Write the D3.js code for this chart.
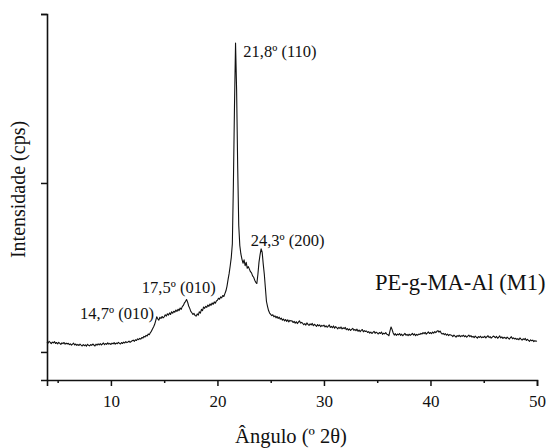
<!DOCTYPE html>
<html>
<head>
<meta charset="utf-8">
<script src="https://cdn.jsdelivr.net/npm/d3@7"></script>
<style>
  html, body { margin: 0; padding: 0; background: #fff; }
  svg { display: block; }
  text { font-family: "Liberation Serif", "Times New Roman", serif; fill: #111; }
</style>
</head>
<body>
<svg id="chart" width="549" height="448"></svg>
<script>
// ---- data ----
// XRD scan sampled every 0.1° 2θ from 4.0° to 50.0°
const angleStart = 4.0;
const angleStep = 0.1;
const intensity = [
  560,552,563,557,549,558,554,561,550,556,   // 4
  548,557,551,545,554,549,556,546,552,547,   // 5
  551,543,548,540,546,552,541,547,539,545,   // 6
  538,546,540,535,544,537,542,534,545,539,   // 7
  536,544,539,547,541,535,546,540,548,542,   // 8
  549,541,547,553,543,550,545,554,546,551,   // 9
  544,552,548,555,546,553,549,557,551,547,   // 10
  556,550,558,553,561,555,559,564,557,562,   // 11
  566,570,563,572,568,577,573,580,576,585,   // 12
  582,592,588,598,594,606,602,614,622,636,   // 13
  648,662,684,708,696,688,705,698,710,702,   // 14
  708,720,712,726,718,731,722,738,729,741,   // 15
  735,748,740,753,745,760,752,768,775,790,   // 16
  798,810,795,772,758,740,732,722,728,716,   // 17
  712,725,718,738,730,752,745,766,758,770,   // 18
  764,778,770,784,776,790,782,796,788,802,   // 19
  806,818,812,826,820,834,828,845,862,890,   // 20
  930,965,1010,1060,1140,1500,1950,2328,2050,1600, // 21
  1250,1130,1080,1050,1025,1045,1010,1030,995,1005, // 22
  990,975,968,950,942,925,912,905,960,1030,  // 23
  1075,1110,1090,1020,960,880,800,770,745,730, // 24
  722,715,720,708,714,702,710,698,706,694,   // 25
  700,688,695,684,692,681,690,678,687,683,   // 26
  685,674,681,670,679,668,676,684,671,675,   // 27
  670,661,668,659,672,663,657,666,660,669,   // 28
  655,664,658,651,662,654,660,649,657,653,   // 29
  659,648,655,646,652,660,645,651,643,654,   // 30
  640,650,644,637,646,639,648,636,643,638,   // 31
  645,632,638,629,636,627,634,640,628,633,   // 32
  626,635,622,630,620,628,633,619,626,621,   // 33
  624,615,620,611,618,609,616,622,610,617,   // 34
  613,606,615,609,618,604,611,607,614,605,   // 35
  602,596,625,648,632,612,600,608,598,606,   // 36
  601,609,598,605,596,603,610,599,604,597,   // 37
  605,598,603,610,600,607,596,604,599,606,   // 38
  603,610,606,614,608,616,605,612,619,609,   // 39
  615,608,618,611,620,614,622,626,617,624,   // 40
  613,606,610,602,608,599,606,597,603,600,   // 41
  598,591,600,594,588,597,592,599,590,596,   // 42
  593,599,590,596,587,594,600,591,597,588,   // 43
  592,585,594,588,582,591,586,593,584,589,   // 44
  586,593,583,590,596,585,591,582,588,594,   // 45
  590,584,592,581,587,595,583,589,580,586,   // 46
  585,579,588,582,576,584,590,578,583,577,   // 47
  581,574,579,572,583,576,570,578,573,580,   // 48
  568,575,569,563,572,566,570,561,567,563,   // 49
  565                                        // 50
];
const angles = intensity.map((_, i) => +(angleStart + i * angleStep).toFixed(1));

const xMajorTicks = [10, 20, 30, 40, 50];
const xMinorTicks = [5, 15, 25, 35, 45];
const yTicks = [500, 1500, 2500];
const xDomain = [4, 50];
const yDomain = [334, 2500];

const peakLabels = ["14,7º (010)", "17,5º (010)", "21,8º (110)", "24,3º (200)"];
const peakLabelAngles = [7.1, 12.9, 22.43, 23.12];
const peakLabelValues = [695, 849, 2245, 1127];
const sampleName = "PE-g-MA-Al (M1)";
const sampleAngle = 50.8;
const sampleValue = 867;
const xTitle = "Ângulo (º 2θ)";
const yTitle = "Intensidade (cps)";

// ---- drawing ----
const svg = d3.select("#chart");
const mLeft = 47, mRight = 537, mTop = 14, mBottom = 380;

const x = d3.scaleLinear().domain(xDomain).range([mLeft, mRight]);
const y = d3.scaleLinear().domain(yDomain).range([mBottom, mTop]);

const pts = angles.map((a, i) => [a, intensity[i]]);
const line = d3.line().x(d => x(d[0])).y(d => y(d[1]));

svg.append("path")
  .datum(pts)
  .attr("d", line)
  .attr("fill", "none")
  .attr("stroke", "#111")
  .attr("stroke-width", 1.1)
  .attr("stroke-linejoin", "round");

// x axis
const gx = svg.append("g").attr("transform", `translate(0,${mBottom})`);
gx.call(d3.axisBottom(x).tickValues(xMajorTicks).tickSize(6).tickPadding(9).tickFormat(d3.format("d")));
gx.append("g").call(d3.axisBottom(x).tickValues(xMinorTicks).tickSize(3).tickFormat(""))
  .select(".domain").remove();
gx.selectAll(".domain").attr("stroke", "#111").attr("stroke-width", 1.6);
gx.selectAll(".tick line").attr("stroke", "#111").attr("stroke-width", 1.5);
gx.selectAll(".tick text")
  .style("font-family", '"Liberation Serif", "Times New Roman", serif')
  .style("font-size", "17px").attr("fill", "#111");

// y axis
const gy = svg.append("g").attr("transform", `translate(${mLeft},0)`);
gy.call(d3.axisLeft(y).tickValues(yTicks).tickSize(6).tickFormat(""));
gy.selectAll(".domain").attr("stroke", "#111").attr("stroke-width", 1.6);
gy.selectAll(".tick line").attr("stroke", "#111").attr("stroke-width", 1.5);

// axis titles
svg.append("text")
  .attr("x", 291)
  .attr("y", 443)
  .attr("text-anchor", "middle")
  .style("font-size", "20.5px")
  .text(xTitle);

svg.append("text")
  .attr("transform", "translate(25,189.5) rotate(-90)")
  .attr("text-anchor", "middle")
  .style("font-size", "20px")
  .text(yTitle);

// peak annotations
peakLabels.forEach((t, i) => {
  svg.append("text")
    .attr("x", x(peakLabelAngles[i]))
    .attr("y", y(peakLabelValues[i]))
    .style("font-size", "16.5px")
    .text(t);
});

svg.append("text")
  .attr("x", x(sampleAngle))
  .attr("y", y(sampleValue))
  .attr("text-anchor", "end")
  .style("font-size", "22.5px")
  .text(sampleName);
</script>
</body>
</html>
